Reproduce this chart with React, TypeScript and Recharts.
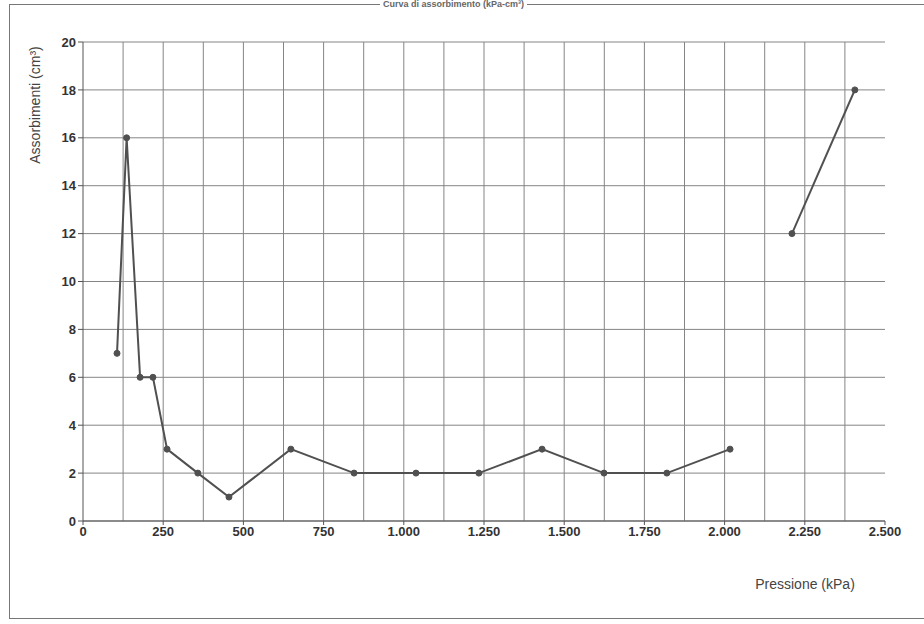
import React from 'react';
import { LineChart, Line, XAxis, YAxis, CartesianGrid, ReferenceLine } from 'recharts';

// pressione (kPa) e assorbimenti (cm³)
const pressioneA = [106, 136, 178, 218, 262, 358, 455, 648, 845, 1038, 1234, 1431, 1624, 1820, 2017];
const assorbimentiA = [7, 16, 6, 6, 3, 2, 1, 3, 2, 2, 2, 3, 2, 2, 3];
const pressioneB = [2210, 2406];
const assorbimentiB = [12, 18];

const xTicks = [0, 250, 500, 750, 1000, 1250, 1500, 1750, 2000, 2250, 2500];
const yTicks = [0, 2, 4, 6, 8, 10, 12, 14, 16, 18, 20];
const gridX = [125, 250, 375, 500, 625, 750, 875, 1000, 1125, 1250, 1375, 1500, 1625, 1750, 1875, 2000, 2125, 2250, 2375];

const serieA = pressioneA.map((p, i) => ({ p, a: assorbimentiA[i] }));
const serieB = pressioneB.map((p, i) => ({ p, a: assorbimentiB[i] }));

// separatore migliaia col punto, come nell'originale
const fmtK = (v: number) => (v >= 1000 ? String(v).replace(/(\d)(\d{3})$/, '$1.$2') : String(v));

const font = '"Liberation Sans", Arial, sans-serif';
const lineCol = '#505050';

const App: React.FC = () => {
  return (
    <div style={{ position: 'absolute', left: 0, top: 0, width: 924, height: 624, background: '#fff', overflow: 'hidden' }}>
      <div
        style={{
          position: 'absolute', left: 9, top: 4, width: 940, height: 613,
          borderLeft: '1px solid #777', borderTop: '1px solid #777', borderBottom: '1px solid #777',
        }}
      />
      <div
        style={{
          position: 'absolute', left: 380, top: -1, fontFamily: font, fontSize: 9, lineHeight: '10px', fontWeight: 'bold',
          color: '#666', whiteSpace: 'nowrap', background: '#fff', padding: '0 3px',
        }}
      >
        Curva di assorbimento (kPa-cm³)
      </div>
      <LineChart width={924} height={624} margin={{ top: 42, right: 39, bottom: 73, left: 23 }} style={{ position: 'absolute', left: 0, top: 0 }}>
        <CartesianGrid vertical={false} stroke="#858585" strokeWidth={1} />
        {gridX.map(g => (
          <ReferenceLine key={g} x={g} stroke="#858585" strokeWidth={1} ifOverflow="hidden" />
        ))}
        <XAxis
          type="number"
          dataKey="p"
          domain={[0, 2500]}
          ticks={xTicks}
          tickFormatter={fmtK}
          allowDataOverflow
          height={30}
          stroke="#555"
          tickSize={4}
          tick={{ fill: '#333', fontSize: 13, fontFamily: font, fontWeight: 'bold' }}
          label={() => (
            <text x={805} y={589} textAnchor="middle" fill="#444" fontSize={14} fontFamily={font}>
              Pressione (kPa)
            </text>
          )}
        />
        <YAxis
          type="number"
          dataKey="a"
          domain={[0, 20]}
          ticks={yTicks}
          width={60}
          stroke="#555"
          tickSize={5}
          tick={{ fill: '#333', fontSize: 13, fontFamily: font, fontWeight: 'bold' }}
          label={() => (
            <text x={40} y={105} textAnchor="middle" fill="#444" fontSize={14} fontFamily={font} transform="rotate(-90 40 105)">
              Assorbimenti (cm³)
            </text>
          )}
        />
        <Line
          data={serieA}
          dataKey="a"
          stroke={lineCol}
          strokeWidth={2}
          dot={{ r: 3, fill: lineCol, stroke: lineCol, strokeWidth: 1 }}
          isAnimationActive={false}
        />
        <Line
          data={serieB}
          dataKey="a"
          stroke={lineCol}
          strokeWidth={2}
          dot={{ r: 3, fill: lineCol, stroke: lineCol, strokeWidth: 1 }}
          isAnimationActive={false}
        />
      </LineChart>
    </div>
  );
};

export default App;
